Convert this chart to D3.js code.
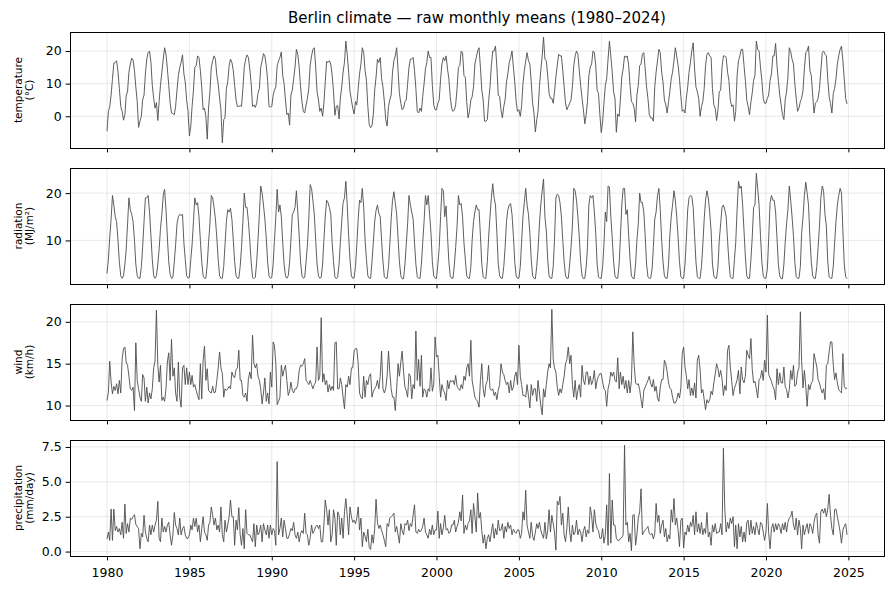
<!DOCTYPE html>
<html lang="en">
<head>
<meta charset="UTF-8">
<title>Berlin climate</title>
<script src="https://cdn.jsdelivr.net/npm/d3@7"></script>
<style>
  body { margin: 0; background: #fff; }
  svg { font-family: "DejaVu Sans", sans-serif; }
</style>
</head>
<body>
<script>
// monthly means, one line per year (Jan..Dec), 1980-2024
var temperature = [
  -4.6, 1.5, 2.8, 6.5, 11.5, 16.3, 16.5, 17.0, 13.5, 8.5, 3.0, 1.5,
  -1.2, 0.5, 6.2, 7.7, 13.5, 16.0, 17.8, 17.2, 14.0, 9.0, 4.5, -3.4,
  -1.5, 0.0, 5.0, 6.5, 13.0, 17.5, 19.5, 20.0, 16.5, 9.5, 5.5, 2.5,
  4.2, -1.3, 4.5, 9.5, 13.5, 17.5, 21.0, 19.0, 14.5, 9.5, 4.0, 1.0,
  0.8, 0.5, 3.0, 8.0, 12.5, 15.0, 16.5, 18.8, 13.0, 10.5, 5.0, 1.5,
  -6.0, -3.0, 3.0, 8.0, 15.0, 15.5, 18.5, 18.0, 14.0, 9.0, 2.0, 2.5,
  0.0, -7.0, 2.5, 7.5, 15.0, 17.0, 18.5, 17.5, 12.5, 10.0, 5.5, 2.0,
  -8.1, -1.0, -0.5, 8.5, 10.5, 15.5, 17.5, 16.5, 14.0, 9.5, 5.0, 3.0,
  3.0, 3.3, 3.0, 8.5, 15.0, 17.5, 18.8, 18.0, 14.5, 10.0, 3.0, 3.5,
  2.7, 4.0, 7.0, 8.5, 15.0, 17.0, 19.2, 18.5, 15.5, 11.0, 3.0, 2.8,
  3.0, 6.5, 8.0, 9.0, 15.5, 17.0, 18.0, 19.7, 12.5, 10.0, 5.0, 0.5,
  1.0, -2.7, 6.5, 8.0, 11.5, 15.0, 20.5, 19.0, 15.0, 9.0, 4.5, 1.5,
  1.0, 3.5, 5.5, 8.5, 15.5, 18.5, 20.5, 21.0, 15.0, 7.5, 5.0, 1.5,
  2.5, 0.0, 4.0, 10.5, 16.8, 16.5, 17.0, 16.0, 12.5, 7.5, 0.3, 3.0,
  3.3, -0.8, 5.5, 9.0, 13.5, 16.5, 23.0, 19.0, 13.5, 7.7, 5.0, 2.5,
  0.7, 4.5, 3.5, 8.5, 13.0, 16.0, 21.0, 19.5, 14.0, 11.0, 3.0, -2.5,
  -3.5, -2.8, 0.5, 8.0, 12.0, 17.5, 16.5, 18.0, 11.5, 9.0, 4.5, -1.0,
  -3.0, 3.0, 5.0, 6.5, 13.5, 17.0, 18.5, 21.0, 14.0, 7.0, 4.0, 2.0,
  2.5, 4.5, 5.0, 10.0, 15.0, 17.5, 17.5, 18.0, 14.0, 8.5, 1.5, 1.0,
  2.5, 1.5, 6.0, 10.0, 14.5, 16.5, 20.0, 18.0, 18.0, 9.5, 3.5, 2.0,
  2.0, 4.0, 5.0, 11.5, 16.0, 18.0, 17.0, 18.5, 14.5, 11.5, 6.0, 2.5,
  1.5, 2.0, 3.5, 8.5, 15.0, 15.5, 20.0, 19.5, 12.5, 12.0, 4.5, -0.5,
  1.5, 5.0, 6.0, 9.0, 16.0, 18.0, 20.0, 21.0, 15.0, 8.0, 5.0, -1.5,
  -1.5, -1.0, 4.5, 9.0, 15.5, 20.0, 20.0, 21.5, 15.0, 6.5, 6.0, 2.0,
  -0.5, 3.0, 5.0, 10.5, 13.0, 16.5, 18.0, 20.0, 15.0, 10.5, 4.5, 1.5,
  2.0, 0.0, 3.0, 10.0, 14.0, 17.0, 19.5, 17.0, 16.0, 10.5, 4.0, 1.0,
  -4.8, -1.0, 1.5, 9.0, 14.0, 18.5, 24.2, 17.5, 17.0, 12.5, 7.0, 5.5,
  5.5, 4.0, 7.5, 12.0, 15.5, 19.0, 18.5, 18.5, 14.0, 9.0, 4.0, 2.0,
  3.0, 4.0, 5.0, 9.0, 15.5, 18.5, 20.0, 19.0, 14.0, 9.5, 5.5, 2.0,
  -2.3, 0.5, 4.5, 12.5, 15.0, 16.0, 20.0, 19.5, 15.5, 8.0, 7.0, 0.5,
  -5.0, -1.5, 4.0, 9.5, 11.5, 17.5, 23.0, 18.5, 13.5, 7.5, 5.5, -4.9,
  0.7, 0.0, 5.0, 12.0, 14.5, 18.5, 18.0, 18.5, 15.5, 9.5, 4.5, 4.0,
  2.5, -1.7, 6.5, 9.5, 15.5, 16.0, 19.0, 19.5, 14.5, 9.0, 5.5, 0.5,
  -0.5, -0.5, -1.5, 9.0, 13.5, 17.0, 20.5, 19.5, 13.5, 10.5, 5.0, 3.5,
  1.0, 4.5, 7.5, 11.5, 13.5, 17.0, 21.0, 18.5, 15.5, 11.5, 6.0, 1.5,
  2.0, 1.0, 5.5, 9.0, 13.5, 16.5, 20.0, 22.5, 14.5, 9.0, 7.5, 5.5,
  0.0, 3.0, 4.5, 8.5, 15.5, 19.0, 19.5, 18.5, 18.0, 8.5, 3.5, 2.5,
  -1.3, 2.0, 7.5, 8.0, 15.0, 18.5, 18.5, 18.0, 13.5, 11.0, 5.0, 3.0,
  3.5, -1.5, 1.5, 12.5, 17.0, 18.5, 20.5, 20.5, 15.5, 11.0, 5.0, 3.0,
  0.5, 4.5, 7.0, 11.0, 12.5, 23.0, 20.5, 20.0, 15.0, 11.0, 5.5, 4.0,
  4.0, 5.5, 6.5, 11.0, 13.0, 18.5, 18.5, 22.3, 15.5, 11.0, 6.5, 3.5,
  0.5, -1.0, 5.0, 7.5, 12.0, 21.0, 19.8, 17.5, 16.0, 10.0, 5.5, 1.5,
  2.5, 4.5, 5.5, 8.0, 14.5, 19.5, 20.0, 21.5, 14.0, 12.5, 6.5, 1.0,
  4.0, 4.5, 5.5, 8.5, 14.0, 19.5, 20.0, 19.0, 18.5, 11.5, 6.0, 4.0,
  1.0, 7.0, 8.5, 11.5, 16.0, 18.5, 20.5, 21.5, 17.0, 11.5, 5.5, 3.8
];

var radiation = [
  3.0, 6.0, 10.5, 14.5, 19.5, 17.5, 15.0, 14.0, 10.0, 5.5, 2.5, 2.0,
  2.5, 5.0, 8.0, 13.5, 19.0, 16.5, 15.5, 14.0, 10.0, 5.0, 2.5, 2.0,
  2.0, 4.5, 8.5, 14.0, 19.0, 19.0, 19.5, 16.0, 11.0, 6.0, 2.5, 2.0,
  2.5, 5.0, 8.0, 12.5, 15.5, 19.5, 20.8, 16.5, 10.5, 5.5, 2.8, 2.0,
  2.2, 5.5, 9.0, 13.5, 15.0, 15.5, 15.3, 15.5, 9.5, 6.0, 2.5, 2.0,
  2.2, 6.0, 9.0, 14.0, 19.0, 17.5, 18.0, 15.0, 10.0, 5.5, 2.5, 2.0,
  2.0, 5.0, 9.5, 13.5, 19.5, 19.0, 17.0, 14.5, 10.5, 6.0, 2.5, 2.0,
  2.0, 4.5, 9.0, 14.0, 16.5, 16.0, 16.8, 14.5, 10.0, 5.5, 2.5, 2.0,
  2.0, 4.5, 8.5, 14.0, 20.0, 17.0, 17.0, 14.0, 10.0, 5.5, 2.2, 1.9,
  2.2, 5.5, 10.0, 15.5, 21.5, 20.0, 17.5, 14.5, 10.5, 5.5, 2.5, 2.0,
  2.2, 5.0, 10.0, 15.0, 20.8, 16.0, 17.5, 15.0, 9.5, 5.0, 2.5, 2.0,
  2.5, 5.5, 10.0, 15.5, 16.0, 17.0, 20.5, 16.0, 11.0, 5.5, 2.5, 2.0,
  2.2, 5.5, 9.0, 14.5, 21.8, 21.0, 18.5, 15.5, 10.0, 5.0, 2.5, 2.0,
  2.2, 5.0, 10.0, 15.0, 18.5, 18.0, 17.0, 15.5, 9.5, 5.5, 2.3, 1.9,
  2.2, 5.0, 9.5, 14.0, 18.0, 19.0, 22.5, 17.5, 11.0, 6.0, 2.5, 2.0,
  2.1, 4.5, 9.0, 14.5, 18.5, 18.0, 21.0, 17.0, 10.0, 6.0, 2.5, 2.0,
  2.0, 5.5, 9.5, 14.0, 16.3, 17.5, 15.8, 15.0, 10.0, 5.5, 2.3, 2.0,
  2.0, 4.5, 9.0, 14.5, 18.5, 20.3, 18.0, 15.5, 10.5, 5.5, 2.5, 1.9,
  1.9, 5.0, 9.0, 13.5, 19.5, 17.5, 16.0, 14.5, 9.5, 5.0, 2.3, 2.0,
  2.0, 5.0, 9.5, 14.0, 19.5, 17.5, 19.5, 15.5, 11.5, 5.5, 2.5, 2.0,
  2.0, 5.0, 8.5, 15.0, 21.0, 20.5, 15.0, 17.3, 11.0, 5.5, 2.5, 2.0,
  2.0, 5.0, 8.5, 13.0, 19.5, 17.5, 17.8, 15.0, 9.5, 6.0, 2.5, 2.0,
  2.0, 4.5, 10.0, 14.0, 16.0, 17.5, 16.5, 16.5, 11.0, 5.0, 2.3, 2.0,
  2.0, 5.5, 10.5, 15.0, 19.0, 22.0, 19.0, 17.5, 11.5, 5.0, 2.5, 2.0,
  2.0, 4.5, 8.5, 14.0, 16.5, 17.5, 17.8, 15.5, 11.0, 5.5, 2.5, 2.0,
  2.0, 4.5, 9.5, 15.0, 18.0, 21.0, 17.5, 15.5, 11.5, 6.0, 2.5, 2.0,
  1.9, 4.5, 8.0, 13.5, 17.5, 20.5, 23.0, 15.0, 12.0, 6.0, 2.5, 2.0,
  2.0, 4.5, 10.0, 19.0, 19.8, 19.5, 18.0, 15.0, 10.0, 5.5, 2.5, 2.0,
  2.0, 5.0, 8.5, 13.0, 21.0, 20.5, 18.5, 15.0, 10.5, 5.5, 2.5, 1.9,
  2.0, 4.5, 8.5, 17.5, 19.5, 19.0, 19.5, 16.0, 11.5, 5.0, 2.3, 2.0,
  2.0, 4.5, 9.0, 16.0, 14.0, 21.5, 21.3, 15.0, 10.5, 5.5, 2.5, 2.0,
  2.0, 5.0, 10.5, 17.5, 21.0, 21.0, 15.5, 16.5, 11.0, 6.0, 2.5, 2.0,
  1.9, 5.0, 10.0, 13.5, 20.0, 18.0, 18.0, 16.0, 11.0, 5.0, 2.3, 2.0,
  2.0, 4.0, 8.5, 14.5, 16.0, 19.5, 21.0, 16.5, 10.0, 5.5, 2.5, 2.0,
  2.0, 5.0, 11.0, 15.0, 17.5, 20.5, 18.5, 15.0, 10.5, 5.5, 2.3, 2.0,
  2.0, 5.0, 10.0, 16.5, 19.0, 19.5, 19.3, 17.0, 11.0, 5.5, 2.3, 2.0,
  2.0, 4.5, 9.0, 14.5, 18.5, 20.5, 19.0, 16.0, 12.0, 5.0, 2.5, 2.0,
  2.0, 4.5, 10.0, 13.5, 17.0, 17.5, 16.5, 15.0, 10.0, 5.5, 2.3, 2.0,
  2.0, 6.0, 9.5, 16.5, 22.5, 21.0, 21.5, 17.5, 12.0, 6.5, 2.5, 1.9,
  2.0, 6.0, 10.5, 17.0, 17.5, 24.2, 21.0, 17.5, 11.0, 5.5, 2.5, 2.0,
  2.0, 4.0, 10.5, 18.0, 19.5, 18.5, 18.5, 16.0, 10.5, 5.0, 2.5, 1.9,
  1.9, 5.0, 9.5, 13.5, 16.5, 21.5, 18.5, 15.0, 11.0, 5.5, 2.3, 2.0,
  2.0, 4.5, 11.5, 15.0, 19.5, 22.3, 20.0, 17.5, 10.5, 5.5, 2.5, 2.0,
  2.0, 4.5, 8.5, 13.0, 19.0, 21.5, 20.5, 15.5, 13.0, 5.5, 2.3, 2.0,
  2.0, 4.5, 9.5, 14.0, 17.5, 19.5, 21.0, 20.0, 12.0, 5.0, 2.3, 1.9
];

var wind = [
  10.6, 11.6, 15.3, 12.8, 11.4, 12.3, 11.8, 12.6, 11.4, 13.0, 11.5, 15.5,
  16.8, 17.0, 15.2, 14.8, 13.5, 12.0, 11.8, 12.2, 9.4, 17.5, 13.0, 12.0,
  11.0, 10.5, 13.7, 13.3, 10.5, 12.2, 10.3, 11.5, 10.8, 12.0, 14.5, 15.3,
  21.4, 14.8, 12.8, 14.8, 10.6, 11.0, 10.5, 12.0, 15.2, 16.3, 13.0, 17.9,
  13.5, 14.5, 11.5, 10.5, 15.2, 11.0, 9.8, 14.5, 14.8, 12.5, 14.5, 12.5,
  14.0, 12.5, 13.6, 12.2, 12.5, 11.8, 11.2, 10.7, 15.0, 10.8, 15.4, 17.1,
  13.0, 14.4, 11.8, 11.6, 11.5, 12.3, 11.5, 11.6, 13.0, 14.5, 16.4, 14.5,
  13.8, 11.0, 12.0, 11.8, 12.0, 12.3, 12.0, 14.0, 13.5, 13.3, 14.3, 14.5,
  16.6, 13.0, 13.0, 11.2, 11.0, 11.5, 10.5, 13.2, 14.0, 13.2, 18.4, 15.0,
  14.5, 15.0, 13.5, 13.0, 12.0, 10.2, 11.5, 13.3, 10.5, 11.5, 10.2, 14.0,
  12.2, 17.6, 17.2, 15.0, 10.1, 10.5, 11.0, 14.8, 13.5, 14.3, 14.8, 13.0,
  11.2, 11.7, 12.8, 11.8, 11.5, 12.0, 12.0, 12.5, 14.2, 14.8, 14.7, 15.0,
  15.6, 13.0, 12.8, 12.5, 13.0, 12.5, 12.0, 12.5, 12.8, 17.0, 13.0, 13.5,
  20.5, 12.8, 13.8, 12.5, 13.0, 11.6, 12.5, 11.8, 12.3, 11.8, 17.5, 17.6,
  12.0, 12.0, 13.3, 12.5, 11.0, 9.6, 12.5, 12.2, 13.5, 12.5, 14.5, 14.5,
  16.5, 16.8, 16.8, 15.0, 11.5, 11.0, 10.8, 13.5, 11.0, 13.0, 12.5, 13.5,
  13.8, 11.0, 11.7, 12.0, 12.3, 13.0, 12.0, 13.5, 16.5, 12.0, 11.5, 12.0,
  13.5, 16.5, 14.0, 12.0, 11.0, 11.0, 9.4, 12.0, 15.0, 13.5, 15.2, 16.5,
  14.0, 12.2, 11.8, 11.0, 13.8, 13.5, 10.8, 12.5, 12.0, 18.9, 13.0, 15.5,
  12.3, 16.0, 11.0, 12.0, 11.8, 11.0, 12.0, 11.7, 14.5, 11.7, 12.5, 18.2,
  15.8, 16.0, 13.5, 11.0, 12.5, 11.8, 11.5, 10.6, 13.0, 12.0, 13.0, 12.8,
  13.0, 12.5, 13.6, 12.3, 12.0, 11.8, 12.5, 12.0, 13.5, 13.0, 14.5, 15.0,
  13.5, 17.8, 13.0, 12.0, 11.0, 10.7, 10.5, 9.8, 13.0, 15.0, 12.0, 11.0,
  12.5, 13.0, 14.8, 12.0, 11.8, 12.0, 11.2, 11.6, 10.7, 11.8, 12.5, 15.0,
  14.0, 13.7, 13.0, 12.5, 12.8, 11.5, 13.0, 11.8, 12.2, 13.5, 14.0, 12.5,
  17.2, 13.5, 12.5, 11.2, 11.2, 11.0, 12.5, 11.2, 9.7, 12.5, 11.2, 12.0,
  12.0, 10.5, 13.0, 11.5, 10.0, 8.9, 12.0, 11.0, 12.5, 14.0, 15.0, 14.5,
  21.5, 15.5, 14.5, 14.0, 12.2, 11.2, 12.0, 11.5, 12.5, 13.5, 15.0, 15.5,
  17.0, 15.0, 16.0, 12.5, 11.0, 13.0, 10.7, 11.8, 12.5, 11.0, 14.8, 13.0,
  12.5, 14.0, 14.0, 12.5, 13.5, 12.5, 13.0, 14.2, 12.0, 13.0, 13.5, 13.8,
  13.8, 12.8, 12.0, 11.8, 9.9, 12.0, 12.7, 14.0, 13.5, 14.0, 13.0, 12.8,
  15.7, 12.0, 14.0, 12.5, 13.5, 12.0, 13.0, 11.5, 13.0, 11.5, 13.0, 18.8,
  14.8, 12.7, 12.5, 12.6, 11.9, 10.7, 9.7, 11.8, 12.2, 12.6, 13.0, 13.5,
  12.6, 12.2, 13.1, 11.7, 12.3, 10.9, 10.5, 12.2, 13.1, 13.1, 15.4, 15.0,
  14.0, 12.7, 12.1, 11.9, 11.0, 10.3, 10.3, 10.7, 11.5, 10.9, 12.1, 16.2,
  17.0, 14.6, 13.6, 12.0, 13.1, 11.2, 12.1, 11.2, 12.7, 10.9, 15.4, 16.0,
  14.3, 11.5, 11.9, 10.7, 9.5, 10.7, 10.3, 10.7, 11.7, 11.3, 12.7, 13.7,
  15.0, 14.4, 13.4, 14.2, 13.2, 11.2, 12.4, 11.8, 16.6, 17.2, 14.6, 13.0,
  11.2, 12.1, 12.5, 13.1, 14.2, 11.4, 14.6, 13.1, 12.7, 13.5, 16.6, 16.0,
  15.6, 18.0, 14.4, 12.7, 12.9, 12.0, 10.9, 13.1, 13.3, 14.2, 13.0, 15.4,
  14.0, 20.8, 13.7, 13.3, 12.9, 12.3, 11.9, 10.7, 14.4, 12.5, 13.9, 12.7,
  12.7, 14.6, 12.3, 11.9, 10.9, 11.9, 14.2, 13.1, 14.8, 12.3, 12.5, 14.0,
  14.5, 21.2, 15.4, 12.1, 14.2, 12.3, 9.9, 12.5, 11.9, 12.7, 12.9, 16.2,
  15.4, 14.6, 13.1, 12.7, 12.0, 11.5, 12.0, 10.7, 14.8, 15.0, 16.4, 17.6,
  17.6, 14.8, 13.1, 13.9, 12.7, 11.9, 11.7, 11.5, 16.2, 12.3, 12.0, 12.1
];

var precipitation = [
  0.9, 1.4, 0.8, 3.05, 0.8, 3.05, 1.5, 1.8, 1.4, 1.65, 1.2, 2.1,
  0.95, 3.4, 1.3, 2.0, 1.4, 2.4, 2.3, 2.5, 2.65, 1.95, 1.8, 1.65,
  0.2, 1.3, 1.05, 2.6, 1.4, 0.95, 0.7, 1.9, 1.2, 1.9, 1.4, 1.9,
  2.25, 3.6, 0.95, 0.7, 2.4, 1.4, 1.8, 1.4, 1.9, 2.1, 1.2, 0.45,
  1.2, 2.8, 1.9, 1.65, 1.2, 2.4, 1.2, 1.65, 1.8, 1.2, 0.95, 0.95,
  1.2, 1.9, 1.55, 2.4, 1.8, 2.4, 1.4, 1.9, 0.7, 1.65, 2.5, 1.4,
  1.2, 0.8, 1.9, 2.1, 3.2, 2.6, 1.9, 2.4, 1.55, 1.9, 1.4, 3.2,
  1.2, 0.7, 2.25, 1.4, 1.9, 2.5, 3.7, 2.5, 2.5, 0.45, 2.25, 1.55,
  3.15, 1.2, 0.45, 1.65, 0.2, 3.0, 1.3, 1.2, 1.2, 0.95, 0.7, 2.0,
  0.35, 1.9, 1.2, 1.4, 1.9, 0.7, 2.0, 1.55, 1.2, 1.9, 0.95, 1.9,
  1.2, 1.65, 1.5, 0.45, 6.45, 1.2, 1.65, 2.4, 1.05, 2.25, 1.65, 0.95,
  0.95, 1.3, 1.65, 1.5, 2.1, 1.2, 0.95, 1.4, 0.7, 1.3, 1.5, 1.3,
  2.75, 1.3, 1.2, 0.45, 0.95, 1.9, 1.3, 1.5, 1.8, 1.9, 1.65, 1.9,
  0.7, 0.7, 1.9, 3.7, 3.0, 1.9, 3.0, 0.7, 1.2, 3.0, 2.4, 0.45,
  2.85, 2.6, 1.2, 2.4, 0.95, 2.85, 3.8, 2.6, 1.2, 3.2, 2.5, 2.1,
  2.25, 2.0, 2.4, 3.2, 1.55, 2.4, 0.35, 1.4, 1.1, 0.7, 1.6, 0.3,
  0.15, 1.2, 0.6, 1.65, 3.75, 2.1, 1.65, 1.9, 1.5, 1.2, 0.8, 0.35,
  2.0, 1.8, 2.4, 2.5, 2.6, 2.75, 1.4, 1.8, 1.2, 0.6, 2.0, 1.5,
  1.2, 2.0, 1.9, 2.25, 1.5, 2.0, 1.8, 2.6, 3.35, 1.4, 1.3, 1.6,
  1.4, 1.55, 1.8, 2.4, 1.4, 1.2, 0.95, 1.6, 1.2, 1.9, 1.2, 1.55,
  1.55, 2.9, 0.95, 2.0, 1.2, 1.7, 2.6, 1.55, 1.65, 1.3, 1.4, 1.9,
  1.9, 2.25, 1.4, 1.8, 2.1, 2.85, 2.2, 4.05, 1.3, 1.9, 1.55, 2.0,
  2.2, 3.0, 1.3, 3.45, 2.5, 1.4, 4.2, 2.4, 2.8, 1.5, 0.6, 1.2,
  0.2, 0.95, 1.2, 0.7, 1.4, 2.0, 0.95, 1.65, 1.2, 2.25, 1.5, 1.55,
  2.0, 0.95, 1.8, 1.4, 2.1, 1.65, 1.9, 1.2, 1.6, 1.4, 1.3, 1.55,
  1.55, 0.95, 1.3, 2.85, 2.25, 4.4, 1.9, 1.4, 0.95, 2.1, 1.1, 0.8,
  1.4, 2.0, 1.65, 2.1, 1.55, 1.2, 0.95, 2.1, 0.9, 1.5, 3.0, 1.4,
  2.6, 2.0, 1.4, 0.1, 3.6, 3.35, 3.95, 1.9, 2.75, 1.2, 0.7, 1.7,
  3.2, 1.4, 0.7, 1.9, 1.2, 1.4, 2.25, 1.2, 1.6, 1.4, 0.7, 1.5,
  1.8, 1.05, 1.55, 1.3, 3.2, 2.6, 1.4, 3.0, 2.0, 1.65, 1.5, 0.95,
  0.95, 1.65, 0.6, 1.2, 3.35, 0.45, 5.6, 0.6, 3.7, 1.9, 1.9, 0.95,
  0.8, 0.8, 0.95, 1.0, 1.2, 7.62, 1.9, 2.1, 0.7, 1.3, 0.06, 2.6,
  2.65, 0.45, 1.2, 2.4, 2.85, 4.5, 1.2, 1.4, 1.55, 1.65, 1.8, 1.3,
  1.2, 1.3, 0.9, 1.3, 3.45, 2.1, 2.6, 1.3, 1.9, 2.25, 1.05, 1.65,
  0.7, 1.2, 0.9, 3.0, 2.1, 3.8, 1.9, 2.4, 1.5, 0.35, 2.25, 2.4,
  0.25, 1.4, 1.2, 1.9, 1.4, 2.1, 1.8, 2.6, 1.2, 2.85, 1.4, 2.0,
  1.3, 2.1, 1.2, 1.65, 1.3, 2.8, 1.05, 1.4, 0.45, 1.9, 1.4, 2.0,
  1.3, 1.4, 1.4, 2.0, 1.2, 7.4, 3.1, 1.4, 2.1, 1.65, 2.4, 2.0,
  2.5, 0.35, 1.9, 0.2, 2.0, 1.05, 1.8, 0.7, 1.4, 0.7, 2.1, 2.25,
  1.2, 2.25, 1.3, 1.8, 1.2, 2.1, 1.65, 1.2, 2.1, 2.0, 1.4, 0.8,
  1.4, 3.45, 1.3, 0.2, 1.65, 2.0, 1.4, 2.0, 1.55, 2.0, 1.8, 1.3,
  2.0, 1.55, 2.1, 1.4, 2.1, 2.4, 2.5, 2.9, 1.9, 1.55, 2.4, 1.2,
  2.25, 1.65, 0.2, 1.9, 1.2, 1.65, 2.0, 1.3, 2.0, 1.8, 1.3, 2.1,
  2.6, 2.75, 1.2, 0.6, 2.85, 3.05, 2.75, 3.1, 2.5, 3.05, 4.1, 2.6,
  1.65, 1.2, 3.0, 3.05, 2.5, 2.0, 1.4, 0.6, 1.55, 1.8, 2.0, 1.2
];

var yearTicks = [1980, 1985, 1990, 1995, 2000, 2005, 2010, 2015, 2020, 2025];
var tempTicks = [0, 10, 20];
var radTicks = [10, 20];
var windTicks = [10, 15, 20];
var precipTicks = [0, 2.5, 5, 7.5];

var width = 894, height = 590;
var left = 70, right = 884;
var tops = [32, 168, 304, 440], panelH = 116;

var svg = d3.select("body").append("svg")
    .attr("width", width).attr("height", height);

svg.append("text")
    .attr("x", (left + right) / 2).attr("y", 23)
    .attr("text-anchor", "middle")
    .style("font-size", "15px")
    .text("Berlin climate \u2014 raw monthly means (1980\u20132024)");

var months = d3.timeMonth.range(new Date(1980, 0, 1), new Date(2025, 0, 1));
var t0 = +months[0], t1 = +months[months.length - 1];
var pad = (t1 - t0) * 0.05;
var x = d3.scaleTime()
    .domain([new Date(t0 - pad), new Date(t1 + pad)])
    .range([left, right]);
var yearDates = yearTicks.map(function(y) { return new Date(y, 0, 1); });

var panels = [
  {label: ["temperature", "(\u00b0C)"], values: temperature, ticks: tempTicks, fmt: d3.format("d")},
  {label: ["radiation", "(MJ/m\u00b2)"], values: radiation, ticks: radTicks, fmt: d3.format("d")},
  {label: ["wind", "(km/h)"], values: wind, ticks: windTicks, fmt: d3.format("d")},
  {label: ["precipitation", "(mm/day)"], values: precipitation, ticks: precipTicks, fmt: d3.format(".1f")}
];

panels.forEach(function(p, i) {
  var top = tops[i], bottom = top + panelH;
  var ext = d3.extent(p.values);
  var m = (ext[1] - ext[0]) * 0.05;
  var y = d3.scaleLinear().domain([ext[0] - m, ext[1] + m]).range([bottom, top]);
  var g = svg.append("g");

  // grid
  g.selectAll(".gx").data(yearDates).enter().append("line")
      .attr("x1", function(d) { return x(d); }).attr("x2", function(d) { return x(d); })
      .attr("y1", top).attr("y2", bottom)
      .attr("stroke", "#b0b0b0").attr("stroke-opacity", 0.35).attr("stroke-width", 0.8);
  g.selectAll(".gy").data(p.ticks).enter().append("line")
      .attr("x1", left).attr("x2", right)
      .attr("y1", function(d) { return y(d); }).attr("y2", function(d) { return y(d); })
      .attr("stroke", "#b0b0b0").attr("stroke-opacity", 0.35).attr("stroke-width", 0.8);

  // series
  var line = d3.line()
      .x(function(d, j) { return x(months[j]); })
      .y(function(d) { return y(d); });
  g.append("path").datum(p.values)
      .attr("d", line)
      .attr("fill", "none")
      .attr("stroke", "#4d4d4d")
      .attr("stroke-width", 0.9)
      .attr("stroke-linejoin", "round");

  // axes
  var ya = g.append("g").attr("transform", "translate(" + left + ",0)")
      .call(d3.axisLeft(y).tickValues(p.ticks).tickFormat(p.fmt).tickSize(4.4).tickPadding(4));
  var xa = g.append("g").attr("transform", "translate(0," + bottom + ")")
      .call(d3.axisBottom(x).tickValues(yearDates).tickSize(4.4)
        .tickFormat(i == panels.length - 1 ? d3.timeFormat("%Y") : function() { return ""; }));
  [ya, xa].forEach(function(a) {
    a.select(".domain").remove();
    a.attr("font-family", null).attr("font-size", null);
    a.selectAll("line").attr("stroke", "#000").attr("stroke-width", 1);
    a.selectAll("text").attr("fill", "#000").style("font-size", "12.5px");
  });
  xa.selectAll("text").attr("dy", null).attr("y", 20.5);

  // frame
  g.append("rect")
      .attr("x", left).attr("y", top)
      .attr("width", right - left).attr("height", panelH)
      .attr("fill", "none").attr("stroke", "#000").attr("stroke-width", 1)
      .attr("shape-rendering", "crispEdges");

  // y label
  var lab = g.append("text")
      .attr("transform", "translate(22," + (top + panelH / 2) + ") rotate(-90)")
      .attr("text-anchor", "middle")
      .style("font-size", "10.5px");
  lab.append("tspan").attr("x", 0).attr("dy", 0).text(p.label[0]);
  lab.append("tspan").attr("x", 0).attr("dy", "1.0em").text(p.label[1]);
});
</script>
</body>
</html>
